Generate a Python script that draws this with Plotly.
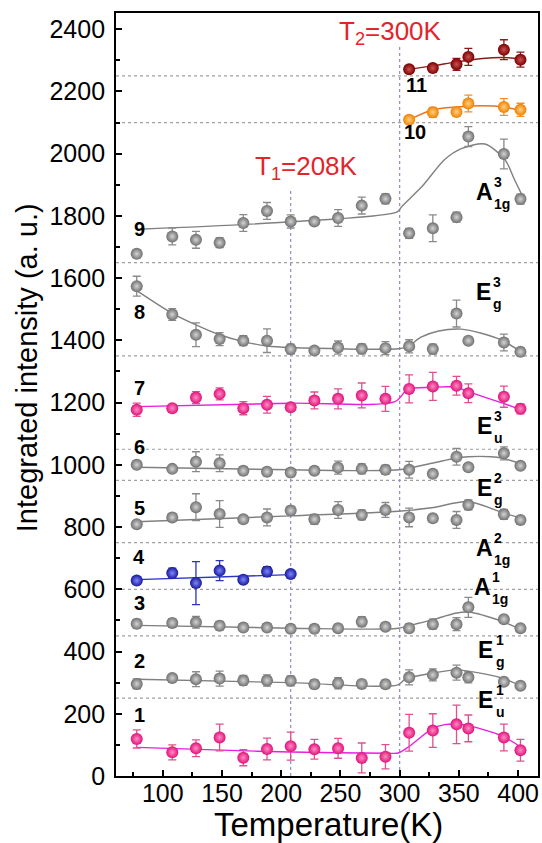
import plotly.graph_objects as go

# ---------------- data ----------------
T_all = [78, 108, 128, 148, 168, 188, 208, 228, 248, 268, 288, 308, 328, 348, 358, 388, 402]
T_low = [78, 108, 128, 148, 168, 188, 208]
T_high = [308, 328, 348, 358, 388, 402]

s1 = [119, 76, 89, 124, 59, 87, 96, 86, 89, 58, 62, 139, 146, 166, 153, 124, 83]
e1 = [29, 24, 27, 43, 26, 35, 45, 32, 32, 48, 39, 59, 54, 62, 43, 43, 35]
s2 = [296, 315, 311, 313, 307, 307, 306, 295, 298, 296, 295, 317, 325, 332, 317, 303, 290]
e2 = [16, 11, 24, 24, 16, 18, 16, 14, 18, 13, 13, 24, 19, 24, 18, 11, 10]
s3 = [489, 492, 494, 483, 477, 477, 473, 473, 475, 496, 480, 475, 488, 488, 542, 504, 475]
e3 = [14, 14, 19, 14, 10, 12, 12, 12, 12, 16, 12, 14, 16, 21, 32, 12, 10]
s4 = [628, 652, 620, 660, 631, 657, 649]
e4 = [6, 16, 69, 32, 6, 16, 9]
s5 = [809, 831, 864, 842, 825, 831, 853, 825, 855, 839, 855, 831, 828, 823, 871, 841, 823]
e5 = [6, 13, 43, 43, 11, 27, 13, 16, 27, 16, 24, 30, 13, 27, 16, 16, 9]
s6 = [1000, 987, 1010, 1005, 981, 978, 975, 981, 991, 987, 984, 984, 971, 1026, 992, 1037, 997]
e6 = [6, 10, 32, 27, 13, 13, 13, 12, 21, 16, 15, 27, 6, 27, 6, 21, 6]
s7 = [1177, 1182, 1216, 1228, 1182, 1193, 1185, 1207, 1212, 1223, 1212, 1244, 1252, 1254, 1230, 1219, 1180]
e7 = [21, 11, 19, 19, 21, 27, 6, 27, 32, 40, 40, 45, 45, 30, 30, 34, 16]
s8 = [1574, 1483, 1418, 1404, 1399, 1399, 1372, 1367, 1377, 1373, 1375, 1381, 1372, 1486, 1399, 1393, 1363]
e8 = [32, 19, 38, 21, 16, 38, 16, 12, 21, 16, 21, 21, 16, 43, 6, 27, 13]
s9 = [1678, 1734, 1723, 1714, 1777, 1816, 1782, 1782, 1793, 1833, 1855, 1744, 1760, 1796, 2055, 1999, 1854]
e9 = [13, 27, 27, 16, 27, 27, 21, 8, 27, 27, 16, 16, 43, 16, 32, 48, 16]
s10 = [2109, 2133, 2134, 2161, 2150, 2141]
e10 = [11, 16, 10, 27, 27, 21]
s11 = [2271, 2275, 2287, 2311, 2334, 2302]
e11 = [5, 10, 19, 27, 32, 24]

# fitted curves
fit1_T = [78, 150, 208, 290, 299, 308, 316, 327, 338, 348, 358, 370, 387, 403]
fit1_v = [92, 83, 77, 73, 74, 95, 119, 151, 165, 167, 161, 150, 128, 91]
fit2_T = [78, 208, 298, 305, 327, 347, 358, 387, 403]
fit2_v = [311, 300, 292, 312, 330, 341, 337, 314, 288]
fit3_T = [78, 208, 299, 316, 327, 347, 358, 387, 403]
fit3_v = [484, 475, 475, 491, 501, 523, 527, 496, 469]
fit4_T = [78, 208]
fit4_v = [631, 647]
fit5_T = [78, 208, 299, 327, 358, 387, 403]
fit5_v = [817, 836, 851, 862, 882, 846, 828]
fit6_T = [78, 208, 299, 327, 347, 358, 377, 387, 403]
fit6_v = [992, 984, 984, 1005, 1021, 1026, 1026, 1021, 1003]
fit6b_T = [283, 292]
fit6b_v = [983, 983]
fit7_T = [78, 208, 296, 307, 327, 347, 358, 387, 403]
fit7_v = [1187, 1198, 1203, 1243, 1249, 1250, 1235, 1198, 1176]
fit8_T = [78, 108, 128, 148, 168, 188, 208, 299, 307, 318, 333, 352, 369, 386, 403]
fit8_v = [1560, 1487, 1450, 1418, 1396, 1382, 1377, 1373, 1380, 1410, 1430, 1436, 1423, 1401, 1362]
fit9_T = [80, 208, 298, 302, 319, 338, 352, 372, 389, 397, 403]
fit9_v = [1757, 1781, 1813, 1831, 1895, 1981, 2016, 2031, 1980, 1916, 1869]
fit10_T = [308, 328, 348, 370, 388, 403]
fit10_v = [2109, 2141, 2150, 2154, 2150, 2138]
fit11_T = [308, 328, 348, 370, 388, 403]
fit11_v = [2271, 2282, 2295, 2306, 2309, 2304]

ref_levels = [250, 450, 600, 750, 950, 1050, 1350, 1650, 2100, 2250]
T1, T2 = 208, 300

number_labels = ["1", "2", "3", "4", "5", "6", "7", "8", "9", "10", "11"]
number_T = [80, 80, 80, 80, 80, 80, 80, 80, 80.5, 313, 314.5]
number_v = [196, 371, 555, 705, 862, 1058, 1246, 1492, 1758, 2068, 2221]

mode_base = ["E", "E", "A", "A", "E", "E", "E", "A"]
mode_sup = ["1", "1", "1", "2", "2", "3", "3", "3"]
mode_sub = ["u", "g", "1g", "1g", "g", "u", "g", "1g"]
mode_T = [372.7, 372.7, 369.7, 371.3, 371.4, 371.4, 370.6, 371.3]
mode_v = [244, 405, 608, 734, 926, 1125, 1554, 1876]

# ---------------- styles ----------------
GRAY = dict(m="#6f6f6f", g="#d4d4d4", e="#8a8a8a", l="#808080")
PINK = dict(m="#e0127a", g="#ff8cc4", e="#e0508f", l="#e81ee0")
BLUE = dict(m="#18189a", g="#7d86ff", e="#2a35b8", l="#2a35c8")
ORNG = dict(m="#f08000", g="#ffd080", e="#f09030", l="#e8731a")
DRED = dict(m="#760000", g="#d05050", e="#8b1a1a", l="#8b1a1a")

FONT = "Arial, Liberation Sans, sans-serif"

fig = go.Figure()

fits = [(fit1_T, fit1_v, PINK), (fit2_T, fit2_v, GRAY), (fit3_T, fit3_v, GRAY),
        (fit4_T, fit4_v, BLUE), (fit5_T, fit5_v, GRAY), (fit6_T, fit6_v, GRAY),
        (fit7_T, fit7_v, PINK), (fit8_T, fit8_v, GRAY), (fit9_T, fit9_v, GRAY),
        (fit10_T, fit10_v, ORNG), (fit11_T, fit11_v, DRED)]
for ft, fv, st in fits:
    fig.add_trace(go.Scatter(x=ft, y=fv, mode="lines",
                             line=dict(color=st["l"], width=1.4, shape="spline", smoothing=0.8),
                             hoverinfo="skip", showlegend=False))
fig.add_trace(go.Scatter(x=fit6b_T, y=fit6b_v, mode="lines",
                         line=dict(color="#d02020", width=1.4), showlegend=False))

series = [(T_all, s1, e1, PINK), (T_all, s2, e2, GRAY), (T_all, s3, e3, GRAY),
          (T_low, s4, e4, BLUE), (T_all, s5, e5, GRAY), (T_all, s6, e6, GRAY),
          (T_all, s7, e7, PINK), (T_all, s8, e8, GRAY), (T_all, s9, e9, GRAY),
          (T_high, s10, e10, ORNG), (T_high, s11, e11, DRED)]
for t, v, e, st in series:
    fig.add_trace(go.Scatter(
        x=t, y=v, mode="markers",
        error_y=dict(type="data", array=e, visible=True, color=st["e"], thickness=1.3, width=4),
        marker=dict(size=12, color=st["m"], line=dict(width=0),
                    gradient=dict(type="radial", color=st["g"])),
        showlegend=False))

shapes = []
for lv in ref_levels:
    shapes.append(dict(type="line", xref="paper", x0=0, x1=1, yref="y", y0=lv, y1=lv,
                       line=dict(color="#a0a0a0", width=1.2, dash="dot"), layer="below"))
shapes.append(dict(type="line", xref="x", x0=T1, x1=T1, yref="y", y0=0, y1=1884,
                   line=dict(color="#8c8cd0", width=1.2, dash="dot"), layer="below"))
shapes.append(dict(type="line", xref="x", x0=T2, x1=T2, yref="y", y0=0, y1=2344,
                   line=dict(color="#8c8cd0", width=1.2, dash="dot"), layer="below"))

ann = []
for lab, tx, vy in zip(number_labels, number_T, number_v):
    ann.append(dict(x=tx, y=vy, xref="x", yref="y", text="<b>%s</b>" % lab, showarrow=False,
                    xanchor="center", yanchor="middle",
                    font=dict(family=FONT, size=20, color="black")))
for b, sp, sb, tx, vy in zip(mode_base, mode_sup, mode_sub, mode_T, mode_v):
    ann.append(dict(x=tx, y=vy, xref="x", yref="y", text="<b>%s</b>" % b, showarrow=False,
                    xanchor="center", yanchor="middle",
                    font=dict(family=FONT, size=23, color="black")))
    ann.append(dict(x=tx, y=vy, xref="x", yref="y", text="<b>%s</b>" % sp, showarrow=False,
                    xanchor="left", yanchor="middle", xshift=8, yshift=10,
                    font=dict(family=FONT, size=14, color="black")))
    ann.append(dict(x=tx, y=vy, xref="x", yref="y", text="<b>%s</b>" % sb, showarrow=False,
                    xanchor="left", yanchor="middle", xshift=8, yshift=-12,
                    font=dict(family=FONT, size=14, color="black")))

ann.append(dict(x=176.5, y=1954, xref="x", yref="y", text="T<sub>1</sub>=208K", showarrow=False,
                xanchor="left", yanchor="middle", font=dict(family=FONT, size=26, color="#e3242b")))
ann.append(dict(x=247.5, y=2388, xref="x", yref="y", text="T<sub>2</sub>=300K", showarrow=False,
                xanchor="left", yanchor="middle", font=dict(family=FONT, size=26, color="#e3242b")))

ann.append(dict(x=0.5035, y=-0.063, xref="paper", yref="paper", text="Temperature(K)",
                showarrow=False, xanchor="center", yanchor="middle",
                font=dict(family=FONT, size=33, color="black")))
ann.append(dict(x=-0.2123, y=0.535, xref="paper", yref="paper", text="Integrated intensity (a. u.)",
                showarrow=False, xanchor="center", yanchor="middle", textangle=-90,
                font=dict(family=FONT, size=29, color="black")))

axis_common = dict(showline=True, linecolor="black", linewidth=1.8, mirror=True,
                   showgrid=False, zeroline=False, ticks="inside", ticklen=6, tickwidth=1.5,
                   tickcolor="black", tickfont=dict(family=FONT, size=25, color="black"))

fig.update_layout(
    width=542, height=843,
    margin=dict(l=116, r=2, t=13, b=67),
    paper_bgcolor="white", plot_bgcolor="white",
    xaxis=dict(range=[60.5, 416.8], tick0=0, dtick=50,
               minor=dict(ticks="inside", ticklen=4, dtick=25, tick0=0, tickcolor="black", tickwidth=1.5),
               ticklabelstandoff=-6, **axis_common),
    yaxis=dict(range=[0, 2452], tick0=0, dtick=200,
               minor=dict(ticks="inside", ticklen=4, dtick=100, tick0=0, tickcolor="black", tickwidth=1.5),
               ticklabelstandoff=4, **axis_common),
    shapes=shapes, annotations=ann, showlegend=False,
)

fig.write_html("out.html", config={"displayModeBar": False},
               post_script="document.body.style.margin='0';document.body.style.overflow='hidden';")
